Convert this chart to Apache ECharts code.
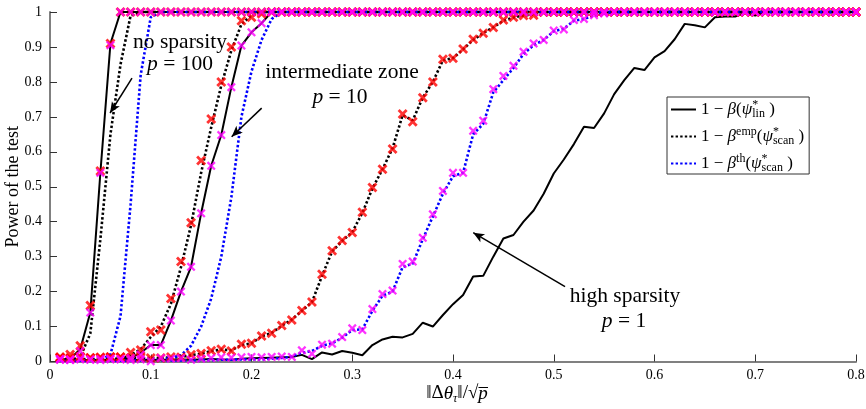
<!DOCTYPE html>
<html>
<head>
<meta charset="utf-8">
<title>Power of the test</title>
<script src="https://cdn.jsdelivr.net/npm/echarts@6/dist/echarts.min.js"></script>
<style>
  html, body { margin: 0; padding: 0; background: #fff; }
  #chart { width: 866px; height: 409px; }
</style>
</head>
<body>
<div id="chart"></div>
<script>
// signal strength ||dtheta|| / sqrt(p)
const xs = [
  0.01, 0.02, 0.03, 0.04, 0.05, 0.06, 0.07, 0.08, 0.09, 0.10,
  0.11, 0.12, 0.13, 0.14, 0.15, 0.16, 0.17, 0.18, 0.19, 0.20,
  0.21, 0.22, 0.23, 0.24, 0.25, 0.26, 0.27, 0.28, 0.29, 0.30,
  0.31, 0.32, 0.33, 0.34, 0.35, 0.36, 0.37, 0.38, 0.39, 0.40,
  0.41, 0.42, 0.43, 0.44, 0.45, 0.46, 0.47, 0.48, 0.49, 0.50,
  0.51, 0.52, 0.53, 0.54, 0.55, 0.56, 0.57, 0.58, 0.59, 0.60,
  0.61, 0.62, 0.63, 0.64, 0.65, 0.66, 0.67, 0.68, 0.69, 0.70,
  0.71, 0.72, 0.73, 0.74, 0.75, 0.76, 0.77, 0.78, 0.79, 0.80
]
const ONES = [1, 1, 1, 1, 1, 1, 1, 1, 1, 1]

// p = 100 (no sparsity)
const lin100 = [0.005, 0.008, 0.035, 0.14, 0.54, 0.91, 1, 1, 1, 1].concat(ONES, ONES, ONES, ONES, ONES, ONES, ONES)
const emp100 = [0.003, 0.004, 0.012, 0.08, 0.35, 0.65, 0.85, 0.99, 1, 1].concat(ONES, ONES, ONES, ONES, ONES, ONES, ONES)
const th100 = [0.002, 0.002, 0.002, 0.003, 0.004, 0.02, 0.13, 0.45, 0.82, 0.985].concat(ONES, ONES, ONES, ONES, ONES, ONES, ONES)
const red100 = [0.012, 0.02, 0.045, 0.16, 0.545, 0.91, 1, 1, 1, 1].concat(ONES, ONES, ONES, ONES, ONES, ONES, ONES)
const mag100 = [0.006, 0.005, 0.03, 0.14, 0.54, 0.905, 1, 1, 1, 1].concat(ONES, ONES, ONES, ONES, ONES, ONES, ONES)

// p = 10 (intermediate zone)
const lin10 = [
  0.004, 0.004, 0.004, 0.004, 0.005, 0.005, 0.006, 0.01, 0.025, 0.047,
  0.047, 0.117, 0.2, 0.271, 0.424, 0.56, 0.648, 0.785, 0.904, 0.942,
  0.968, 1, 1, 1, 1, 1, 1, 1, 1, 1
].concat(ONES, ONES, ONES, ONES, ONES)
const emp10 = [
  0.004, 0.004, 0.004, 0.004, 0.005, 0.006, 0.008, 0.018, 0.035, 0.07,
  0.1, 0.165, 0.27, 0.39, 0.54, 0.67, 0.79, 0.89, 0.965, 0.99,
  1, 1, 1, 1, 1, 1, 1, 1, 1, 1
].concat(ONES, ONES, ONES, ONES, ONES)
const th10 = [
  0.003, 0.003, 0.003, 0.003, 0.003, 0.003, 0.003, 0.003, 0.003, 0.003,
  0.005, 0.01, 0.018, 0.045, 0.1, 0.18, 0.3, 0.47, 0.7, 0.83,
  0.92, 0.98, 1, 1, 1, 1, 1, 1, 1, 1
].concat(ONES, ONES, ONES, ONES, ONES)
const red10 = [
  0.012, 0.01, 0.014, 0.011, 0.012, 0.013, 0.013, 0.026, 0.033, 0.085,
  0.09, 0.18, 0.286, 0.397, 0.575, 0.694, 0.8, 0.9, 0.975, 0.985,
  0.995, 1, 1, 1, 1, 1, 1, 1, 1, 1
].concat(ONES, ONES, ONES, ONES, ONES)
const mag10 = [
  0.005, 0.004, 0.006, 0.005, 0.004, 0.008, 0.006, 0.01, 0.02, 0.047,
  0.047, 0.117, 0.2, 0.271, 0.424, 0.56, 0.648, 0.785, 0.904, 0.942,
  0.968, 1, 1, 1, 1, 1, 1, 1, 1, 1
].concat(ONES, ONES, ONES, ONES, ONES)

// p = 1 (high sparsity)
const lin1 = [
  0.003, 0.004, 0.003, 0.004, 0.004, 0.003, 0.004, 0.004, 0.005, 0.004,
  0.005, 0.005, 0.006, 0.005, 0.006, 0.007, 0.006, 0.005, 0.008, 0.009,
  0.01, 0.011, 0.012, 0.013, 0.019, 0.007, 0.026, 0.02, 0.03, 0.025,
  0.018, 0.047, 0.063, 0.071, 0.069, 0.079, 0.111, 0.1, 0.133, 0.164,
  0.19, 0.243, 0.245, 0.3, 0.352, 0.362, 0.4, 0.432, 0.48, 0.538,
  0.578, 0.622, 0.672, 0.668, 0.71, 0.765, 0.805, 0.84, 0.834, 0.87,
  0.888, 0.922, 0.966, 0.962, 0.956, 0.985, 0.987, 0.987, 0.997, 0.99
].concat(ONES)
const emp1 = [
  0.006, 0.006, 0.007, 0.007, 0.007, 0.008, 0.008, 0.009, 0.009, 0.01,
  0.01, 0.012, 0.013, 0.018, 0.022, 0.03, 0.034, 0.032, 0.047, 0.052,
  0.072, 0.082, 0.102, 0.12, 0.145, 0.17, 0.245, 0.315, 0.345, 0.37,
  0.425, 0.495, 0.55, 0.61, 0.705, 0.69, 0.755, 0.8, 0.862, 0.868,
  0.893, 0.92, 0.94, 0.956, 0.975, 0.984, 0.99, 0.993, 0.998, 1
].concat(ONES, ONES, ONES)
const th1 = [
  0.002, 0.002, 0.002, 0.002, 0.002, 0.002, 0.002, 0.002, 0.002, 0.002,
  0.003, 0.003, 0.003, 0.004, 0.004, 0.004, 0.005, 0.005, 0.006, 0.006,
  0.006, 0.008, 0.01, 0.014, 0.025, 0.03, 0.045, 0.052, 0.068, 0.09,
  0.092, 0.145, 0.188, 0.2, 0.27, 0.28, 0.35, 0.415, 0.48, 0.53,
  0.54, 0.65, 0.68, 0.77, 0.805, 0.84, 0.88, 0.905, 0.92, 0.945,
  0.952, 0.975, 0.98, 0.99, 0.996, 1, 1, 1, 1, 1
].concat(ONES, ONES)
const red1 = [
  0.01, 0.009, 0.012, 0.01, 0.011, 0.013, 0.012, 0.01, 0.011, 0.01,
  0.01, 0.013, 0.012, 0.019, 0.023, 0.031, 0.035, 0.03, 0.049, 0.052,
  0.073, 0.081, 0.103, 0.119, 0.146, 0.17, 0.25, 0.317, 0.346, 0.369,
  0.427, 0.498, 0.55, 0.608, 0.708, 0.686, 0.755, 0.8, 0.865, 0.868,
  0.894, 0.922, 0.939, 0.956, 0.977, 0.985, 0.99, 0.991, 1, 1
].concat(ONES, ONES, ONES)
const mag1 = [
  0.007, 0.006, 0.008, 0.006, 0.007, 0.006, 0.007, 0.004, 0.006, 0.001,
  0.01, 0.008, 0.009, 0.005, 0.008, 0.01, 0.012, 0.011, 0.012, 0.013,
  0.012, 0.013, 0.014, 0.013, 0.032, 0.022, 0.048, 0.051, 0.07, 0.095,
  0.09, 0.15, 0.193, 0.203, 0.279, 0.286, 0.354, 0.421, 0.488, 0.54,
  0.54, 0.66, 0.689, 0.779, 0.817, 0.846, 0.886, 0.91, 0.92, 0.947,
  0.95, 0.977, 0.98, 0.991, 0.996, 1, 1, 1, 1, 1
].concat(ONES, ONES)

const FONT = 'Liberation Serif'
const CROSS_BOLD = 'path://M0,2L2,0L5,3L8,0L10,2L7,5L10,8L8,10L5,7L2,10L0,8L3,5Z'
const CROSS = 'path://M0,1.8L1.8,0L5,3.2L8.2,0L10,1.8L6.8,5L10,8.2L8.2,10L5,6.8L1.8,10L0,8.2L3.2,5Z'

function pairs(ys) {
  return xs.map(function (x, i) { return [x, ys[i]] })
}

function solid(ys) {
  return {
    name: 'lin', type: 'line', data: pairs(ys), symbol: 'none', clip: false, z: 2,
    lineStyle: { color: '#000', width: 2 }, itemStyle: { color: '#000' }
  }
}
function dotted(name, color, ys) {
  return {
    name: name, type: 'line', data: pairs(ys), symbol: 'none', clip: false, z: 2,
    lineStyle: { color: color, width: 2.6, type: [2.4, 2.2] }, itemStyle: { color: color }
  }
}
function crosses(name, color, ys, path, size, z) {
  return {
    name: name, type: 'scatter', data: pairs(ys), symbol: path, symbolSize: size, clip: false, z: z,
    itemStyle: { color: color }
  }
}

const legendText = {
  lin: '{n|1 − }{g|β}{n|(}{g|ψ}{st|*}{sub|lin}{n| )}',
  emp: '{n|1 − }{g|β}{sup|emp}{n|(}{g|ψ}{st|*}{sub|scan}{n| )}',
  th: '{n|1 − }{g|β}{sup|th}{n|(}{g|ψ}{st|*}{sub|scan}{n| )}'
}

const chart = echarts.init(document.getElementById('chart'))

// arrows of the annotations, in data coordinates
const arrows = {
  silent: true, animation: false,
  symbol: ['none', 'arrow'], symbolSize: [7, 11],
  label: { show: false },
  lineStyle: { color: '#000', width: 1.5, type: 'solid' },
  data: [
    [{ coord: [0.0814, 0.811] }, { coord: [0.0596, 0.711] }],
    [{ coord: [0.2101, 0.725] }, { coord: [0.1803, 0.643] }],
    [{ coord: [0.5112, 0.214] }, { coord: [0.4201, 0.3685] }]
  ]
}

const series = [
  Object.assign(solid(lin1), { markLine: arrows }),
  dotted('emp', '#000', emp1),
  dotted('th', '#0000ff', th1),
  solid(lin10),
  dotted('emp', '#000', emp10),
  dotted('th', '#0000ff', th10),
  solid(lin100),
  dotted('emp', '#000', emp100),
  dotted('th', '#0000ff', th100),
  crosses('red', '#ff0000', red1, CROSS_BOLD, 10, 3),
  crosses('red', '#ff0000', red10, CROSS_BOLD, 10, 3),
  crosses('red', '#ff0000', red100, CROSS_BOLD, 10, 3),
  crosses('magenta', '#ff00ff', mag1, CROSS, 9, 4),
  crosses('magenta', '#ff00ff', mag10, CROSS, 9, 4),
  crosses('magenta', '#ff00ff', mag100, CROSS, 9, 4)
]

function note(x, y, text, size) {
  return {
    type: 'text', x: x, y: y, silent: true, z: 10,
    style: {
      text: text, fill: '#000', align: 'center', verticalAlign: 'middle',
      font: size + 'px "' + FONT + '"',
      rich: {
        i: { fontFamily: FONT, fontSize: size, fontStyle: 'italic' }
      }
    }
  }
}

const option = {
  animation: false,
  backgroundColor: '#fff',
  textStyle: { fontFamily: FONT, color: '#000' },
  grid: { left: 50, right: 10, top: 12, bottom: 47.5, outerBoundsMode: 'none' },
  legend: {
    data: ['lin', 'emp', 'th'],
    orient: 'vertical',
    left: 667, top: 97,
    padding: [2, 5, 0, 3],
    itemGap: 6, itemWidth: 25, itemHeight: 14,
    selectedMode: false,
    backgroundColor: '#fff',
    borderColor: '#333', borderWidth: 1, borderRadius: 0,
    // hide the marker that echarts adds to line icons
    itemStyle: { color: 'rgba(0,0,0,0)', borderWidth: 0, opacity: 0 },
    formatter: function (name) { return legendText[name] },
    textStyle: {
      fontFamily: FONT, fontSize: 17, color: '#000',
      rich: {
        n: { fontFamily: FONT, fontSize: 17, lineHeight: 21 },
        g: { fontFamily: FONT, fontSize: 17, fontStyle: 'italic', lineHeight: 21 },
        sup: { fontFamily: FONT, fontSize: 12, verticalAlign: 'top', lineHeight: 12 },
        st: { fontFamily: FONT, fontSize: 12, verticalAlign: 'top', lineHeight: 12, width: 0 },
        sub: { fontFamily: FONT, fontSize: 12, verticalAlign: 'bottom', lineHeight: 12 }
      }
    }
  },
  xAxis: {
    type: 'value', min: 0, max: 0.8, interval: 0.1,
    name: '{n|‖Δ}{i|θ}{s|τ}{n|‖/√}{i|p\u0305}',
    nameLocation: 'middle', nameGap: 21, nameMoveOverlap: false,
    nameTextStyle: {
      padding: [0, 0, 0, 8],
      rich: {
        n: { fontFamily: FONT, fontSize: 19, lineHeight: 22 },
        i: { fontFamily: FONT, fontSize: 19, fontStyle: 'italic', lineHeight: 22 },
        s: { fontFamily: FONT, fontSize: 12, fontStyle: 'italic', verticalAlign: 'bottom', lineHeight: 12 }
      }
    },
    axisLine: { lineStyle: { color: '#808080', width: 2 } },
    axisTick: { inside: true, length: 7, lineStyle: { color: '#333', width: 1 } },
    axisLabel: { fontFamily: FONT, fontSize: 14, color: '#000', margin: 7 },
    splitLine: { show: false }
  },
  yAxis: {
    type: 'value', min: 0, max: 1, interval: 0.1,
    name: 'Power of the test',
    nameLocation: 'middle', nameGap: 28, nameMoveOverlap: false,
    nameTextStyle: { fontFamily: FONT, fontSize: 18, color: '#000' },
    axisLine: { show: true, lineStyle: { color: '#808080', width: 2 } },
    axisTick: { show: true, inside: true, length: 7, lineStyle: { color: '#333', width: 1 } },
    axisLabel: { fontFamily: FONT, fontSize: 14, color: '#000', margin: 8 },
    splitLine: { show: false }
  },
  graphic: [
    note(180, 42, 'no sparsity', 21.5),
    note(180, 64, '{i|p} = 100', 21.5),
    note(342, 72, 'intermediate zone', 21.5),
    note(340, 97, '{i|p} = 10', 21.5),
    note(625, 296, 'high sparsity', 21.5),
    note(624, 321, '{i|p} = 1', 21.5)
  ],
  series: series
}

chart.setOption(option)
</script>
</body>
</html>
